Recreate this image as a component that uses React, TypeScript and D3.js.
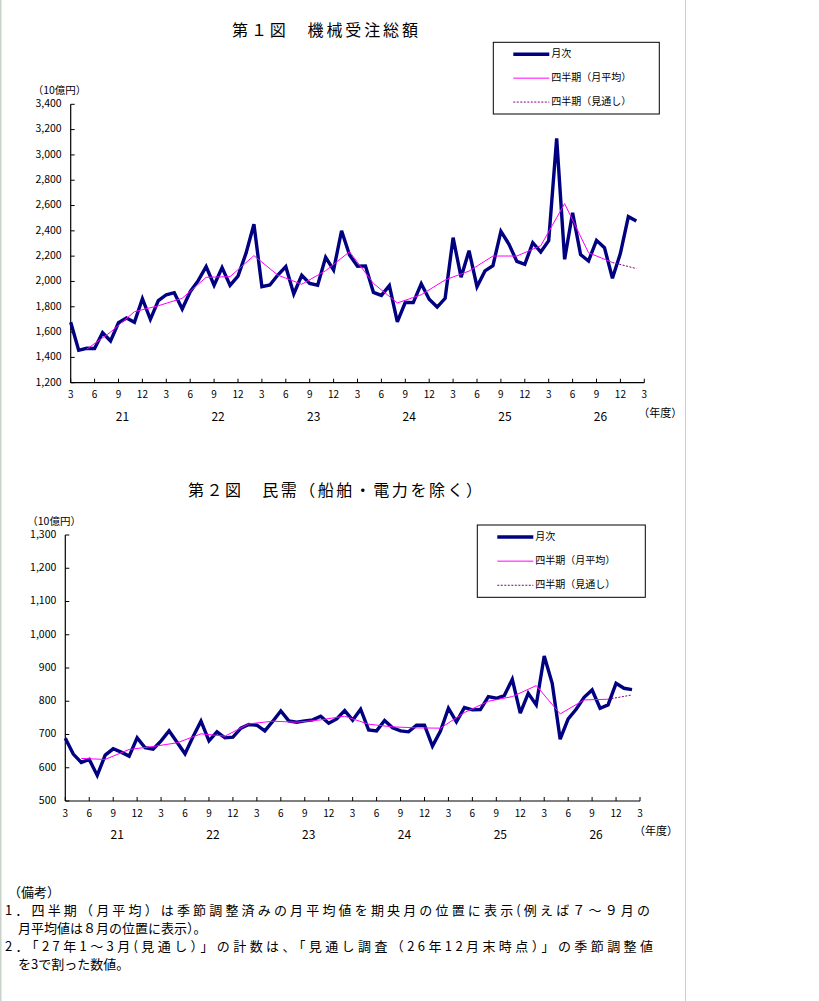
import React from 'react';
import * as d3 from 'd3';

// x axis: month index 0 = March of FY20, 72 = March of FY26 end
const monthTicks = ["3", "6", "9", "12", "3", "6", "9", "12", "3", "6", "9", "12", "3", "6", "9", "12", "3", "6", "9", "12", "3", "6", "9", "12", "3"];
const fiscalYears = ["21", "22", "23", "24", "25", "26"];

// 第１図 機械受注総額 (10億円)
const totalMonthly = [
  1677, 1456, 1472, 1470, 1595, 1530, 1674, 1711, 1677, 1864, 1701, 1848, 1895, 1911, 1782, 1919, 2006, 2117, 1970, 2109, 1970, 2043, 2222, 2452, 1959,
  1972, 2051, 2117, 1901, 2049, 1985, 1970, 2191, 2091, 2401, 2209, 2120, 2123, 1914, 1890, 1967, 1680, 1835, 1833, 1982, 1859, 1798, 1867,
  2346, 2033, 2243, 1959, 2083, 2125, 2396, 2296, 2159, 2136, 2306, 2233, 2322, 3131, 2175, 2543, 2212, 2162, 2325, 2267, 2025, 2222, 2512, 2478,
];
const totalQuarterly = [1464, 1600, 1761, 1808, 1867, 2033, 2038, 2204, 2050, 1978, 2085, 2235, 1985, 1830, 1895, 2012, 2082, 2201, 2201, 2282, 2615, 2227, 2150];
const totalOutlook = 2102;
const totalYTicks = [1200, 1400, 1600, 1800, 2000, 2200, 2400, 2600, 2800, 3000, 3200, 3400];

// 第２図 民需（船舶・電力を除く）
const privateMonthly = [
  689, 641, 616, 625, 577, 638, 657, 647, 635, 690, 660, 656, 681, 711, 677, 642, 693, 740, 681, 708, 690, 692, 719, 730, 728,
  711, 740, 771, 741, 737, 741, 744, 755, 734, 747, 772, 743, 776, 714, 711, 742, 720, 711, 708, 728, 728, 665, 710,
  779, 738, 781, 774, 775, 814, 809, 817, 866, 764, 824, 789, 936, 854, 686, 747, 776, 812, 834, 779, 789, 854, 839, 835,
];
const privateQuarterly = [628, 625, 655, 664, 675, 702, 695, 732, 740, 737, 744, 755, 731, 723, 720, 719, 766, 800, 814, 847, 762, 804, 806];
const privateOutlook = 819;
const privateYTicks = [500, 600, 700, 800, 900, 1000, 1100, 1200, 1300];

const legendLabels = ["月次", "四半期（月平均）", "四半期（見通し）"];
const notes = [
  "（備考）",
  "1．四半期（月平均）は季節調整済みの月平均値を期央月の位置に表示(例えば７～９月の",
  "　月平均値は８月の位置に表示）。",
  "2．「27年1～3月(見通し）」の計数は、「見通し調査（26年12月末時点）」の季節調整値",
  "　を3で割った数値。",
];

const JP = '"Noto Sans CJK JP", "Noto Sans", sans-serif';
const NAVY = '#000080';
const MAGENTA = '#ff00ff';
const PURPLE = '#800080';

type PanelProps = {
  title: string;
  titleX: number;
  titleY: number;
  titleLen: number;
  left: number;
  right: number;
  top: number;
  bottom: number;
  yDomain: [number, number];
  yTicks: number[];
  monthly: number[];
  quarterly: number[];
  outlook: number;
  unitY: number;
  legend: { x0: number; y0: number; x1: number; y1: number };
};

const Panel = (p: PanelProps) => {
  const x = d3.scaleLinear().domain([0, 72]).range([p.left, p.right]);
  const y = d3.scaleLinear().domain(p.yDomain).range([p.bottom, p.top]);
  const fmt = d3.format(',');

  const monthlyLine = d3.line<number>().x((_, i) => x(i)).y(d => y(d))(p.monthly) || '';
  const quarterLine = d3.line<number>().x((_, i) => x(2 + 3 * i)).y(d => y(d))(p.quarterly) || '';
  const lastQ = p.quarterly.length - 1;
  const outlookLine = d3.line<[number, number]>().x(d => x(d[0])).y(d => y(d[1]))([
    [2 + 3 * lastQ, p.quarterly[lastQ]],
    [2 + 3 * lastQ + 3, p.outlook],
  ]) || '';

  const lg = p.legend;
  const rowGap = (lg.y1 - lg.y0) / 3;
  const lx0 = lg.x0 + 20;
  const lx1 = lg.x0 + 56;

  return (
    <g>
      <text x={p.titleX} y={p.titleY} fontSize={16} fontFamily={JP} textLength={p.titleLen} lengthAdjust="spacing" dominantBaseline="middle">{p.title}</text>

      <text x={p.left - 38} y={p.unitY} fontSize={10.5} fontFamily={JP} dominantBaseline="middle">（10億円）</text>

      {p.yTicks.map(t => (
        <g key={t}>
          <line x1={p.left} x2={p.left + 4} y1={y(t)} y2={y(t)} stroke="#000" />
          <text x={p.left - 9} y={y(t)} fontSize={10.5} fontFamily={JP} textAnchor="end" dominantBaseline="middle">{fmt(t)}</text>
        </g>
      ))}

      {monthTicks.map((m, k) => (
        <g key={k}>
          <line x1={x(k * 3)} x2={x(k * 3)} y1={p.bottom} y2={p.bottom - 4} stroke="#000" />
          <text x={x(k * 3)} y={p.bottom + 13} fontSize={10} fontFamily={JP} textAnchor="middle" dominantBaseline="middle">{m}</text>
        </g>
      ))}
      {fiscalYears.map((fy, k) => (
        <text key={fy} x={x(k * 12 + 6.5)} y={p.bottom + 35} fontSize={12} fontFamily={JP} textAnchor="middle" dominantBaseline="middle">{fy}</text>
      ))}
      <text x={p.right - 6} y={p.bottom + 31} fontSize={11} fontFamily={JP} dominantBaseline="middle">（年度）</text>

      <line x1={p.left} x2={p.left} y1={p.top} y2={p.bottom} stroke="#000" strokeWidth={1.2} />
      <line x1={p.left} x2={p.right} y1={p.bottom} y2={p.bottom} stroke="#000" strokeWidth={1.2} />

      <path d={monthlyLine} fill="none" stroke={NAVY} strokeWidth={3.4} strokeLinejoin="miter" strokeMiterlimit={3} />
      <path d={quarterLine} fill="none" stroke={MAGENTA} strokeWidth={1} />
      <path d={outlookLine} fill="none" stroke={PURPLE} strokeWidth={1} strokeDasharray="2,1.5" />

      <rect x={lg.x0} y={lg.y0} width={lg.x1 - lg.x0} height={lg.y1 - lg.y0} fill="#fff" stroke="#000" strokeWidth={1} />
      {legendLabels.map((lab, k) => {
        const ly = lg.y0 + rowGap * (k + 0.5);
        return (
          <g key={lab}>
            <line x1={lx0} x2={lx1} y1={ly} y2={ly}
              stroke={k === 0 ? NAVY : k === 1 ? MAGENTA : PURPLE}
              strokeWidth={k === 0 ? 3.5 : 1}
              strokeDasharray={k === 2 ? '2,1.5' : undefined} />
            <text x={lx1 + 2} y={ly} fontSize={10} fontFamily={JP} dominantBaseline="middle">{lab}</text>
          </g>
        );
      })}
    </g>
  );
};

export default function App() {
  return (
    <svg width={819} height={1001} style={{ position: 'absolute', left: 0, top: 0, background: '#fff' }}>
      <rect x={0} y={0} width={819} height={1001} fill="#fff" />
      <line x1={0.5} x2={0.5} y1={0} y2={1001} stroke="#c8d2c8" strokeWidth={2} />
      <line x1={685.5} x2={685.5} y1={0} y2={1001} stroke="#c8d2c8" strokeWidth={1} />

      <Panel
        title="第１図　機械受注総額" titleX={232} titleY={32} titleLen={186}
        left={70.7} right={644.3} top={104.3} bottom={382.7}
        yDomain={[1200, 3400]} yTicks={totalYTicks}
        monthly={totalMonthly} quarterly={totalQuarterly} outlook={totalOutlook}
        unitY={91}
        legend={{ x0: 493.3, y0: 42.3, x1: 659.3, y1: 114 }}
      />
      <Panel
        title="第２図　民需（船舶・電力を除く）" titleX={188} titleY={492} titleLen={294}
        left={65.3} right={640} top={535} bottom={801}
        yDomain={[500, 1300]} yTicks={privateYTicks}
        monthly={privateMonthly} quarterly={privateQuarterly} outlook={privateOutlook}
        unitY={522}
        legend={{ x0: 477.3, y0: 525, x1: 645.3, y1: 597.3 }}
      />

      {notes.map((t, k) => (
        <text key={k} x={k === 0 ? 8 : 5} y={893 + k * 18} fontSize={13} fontFamily={JP} dominantBaseline="middle"
          textLength={k === 1 ? 645 : k === 3 ? 648 : undefined} lengthAdjust="spacing">{t}</text>
      ))}
    </svg>
  );
}
